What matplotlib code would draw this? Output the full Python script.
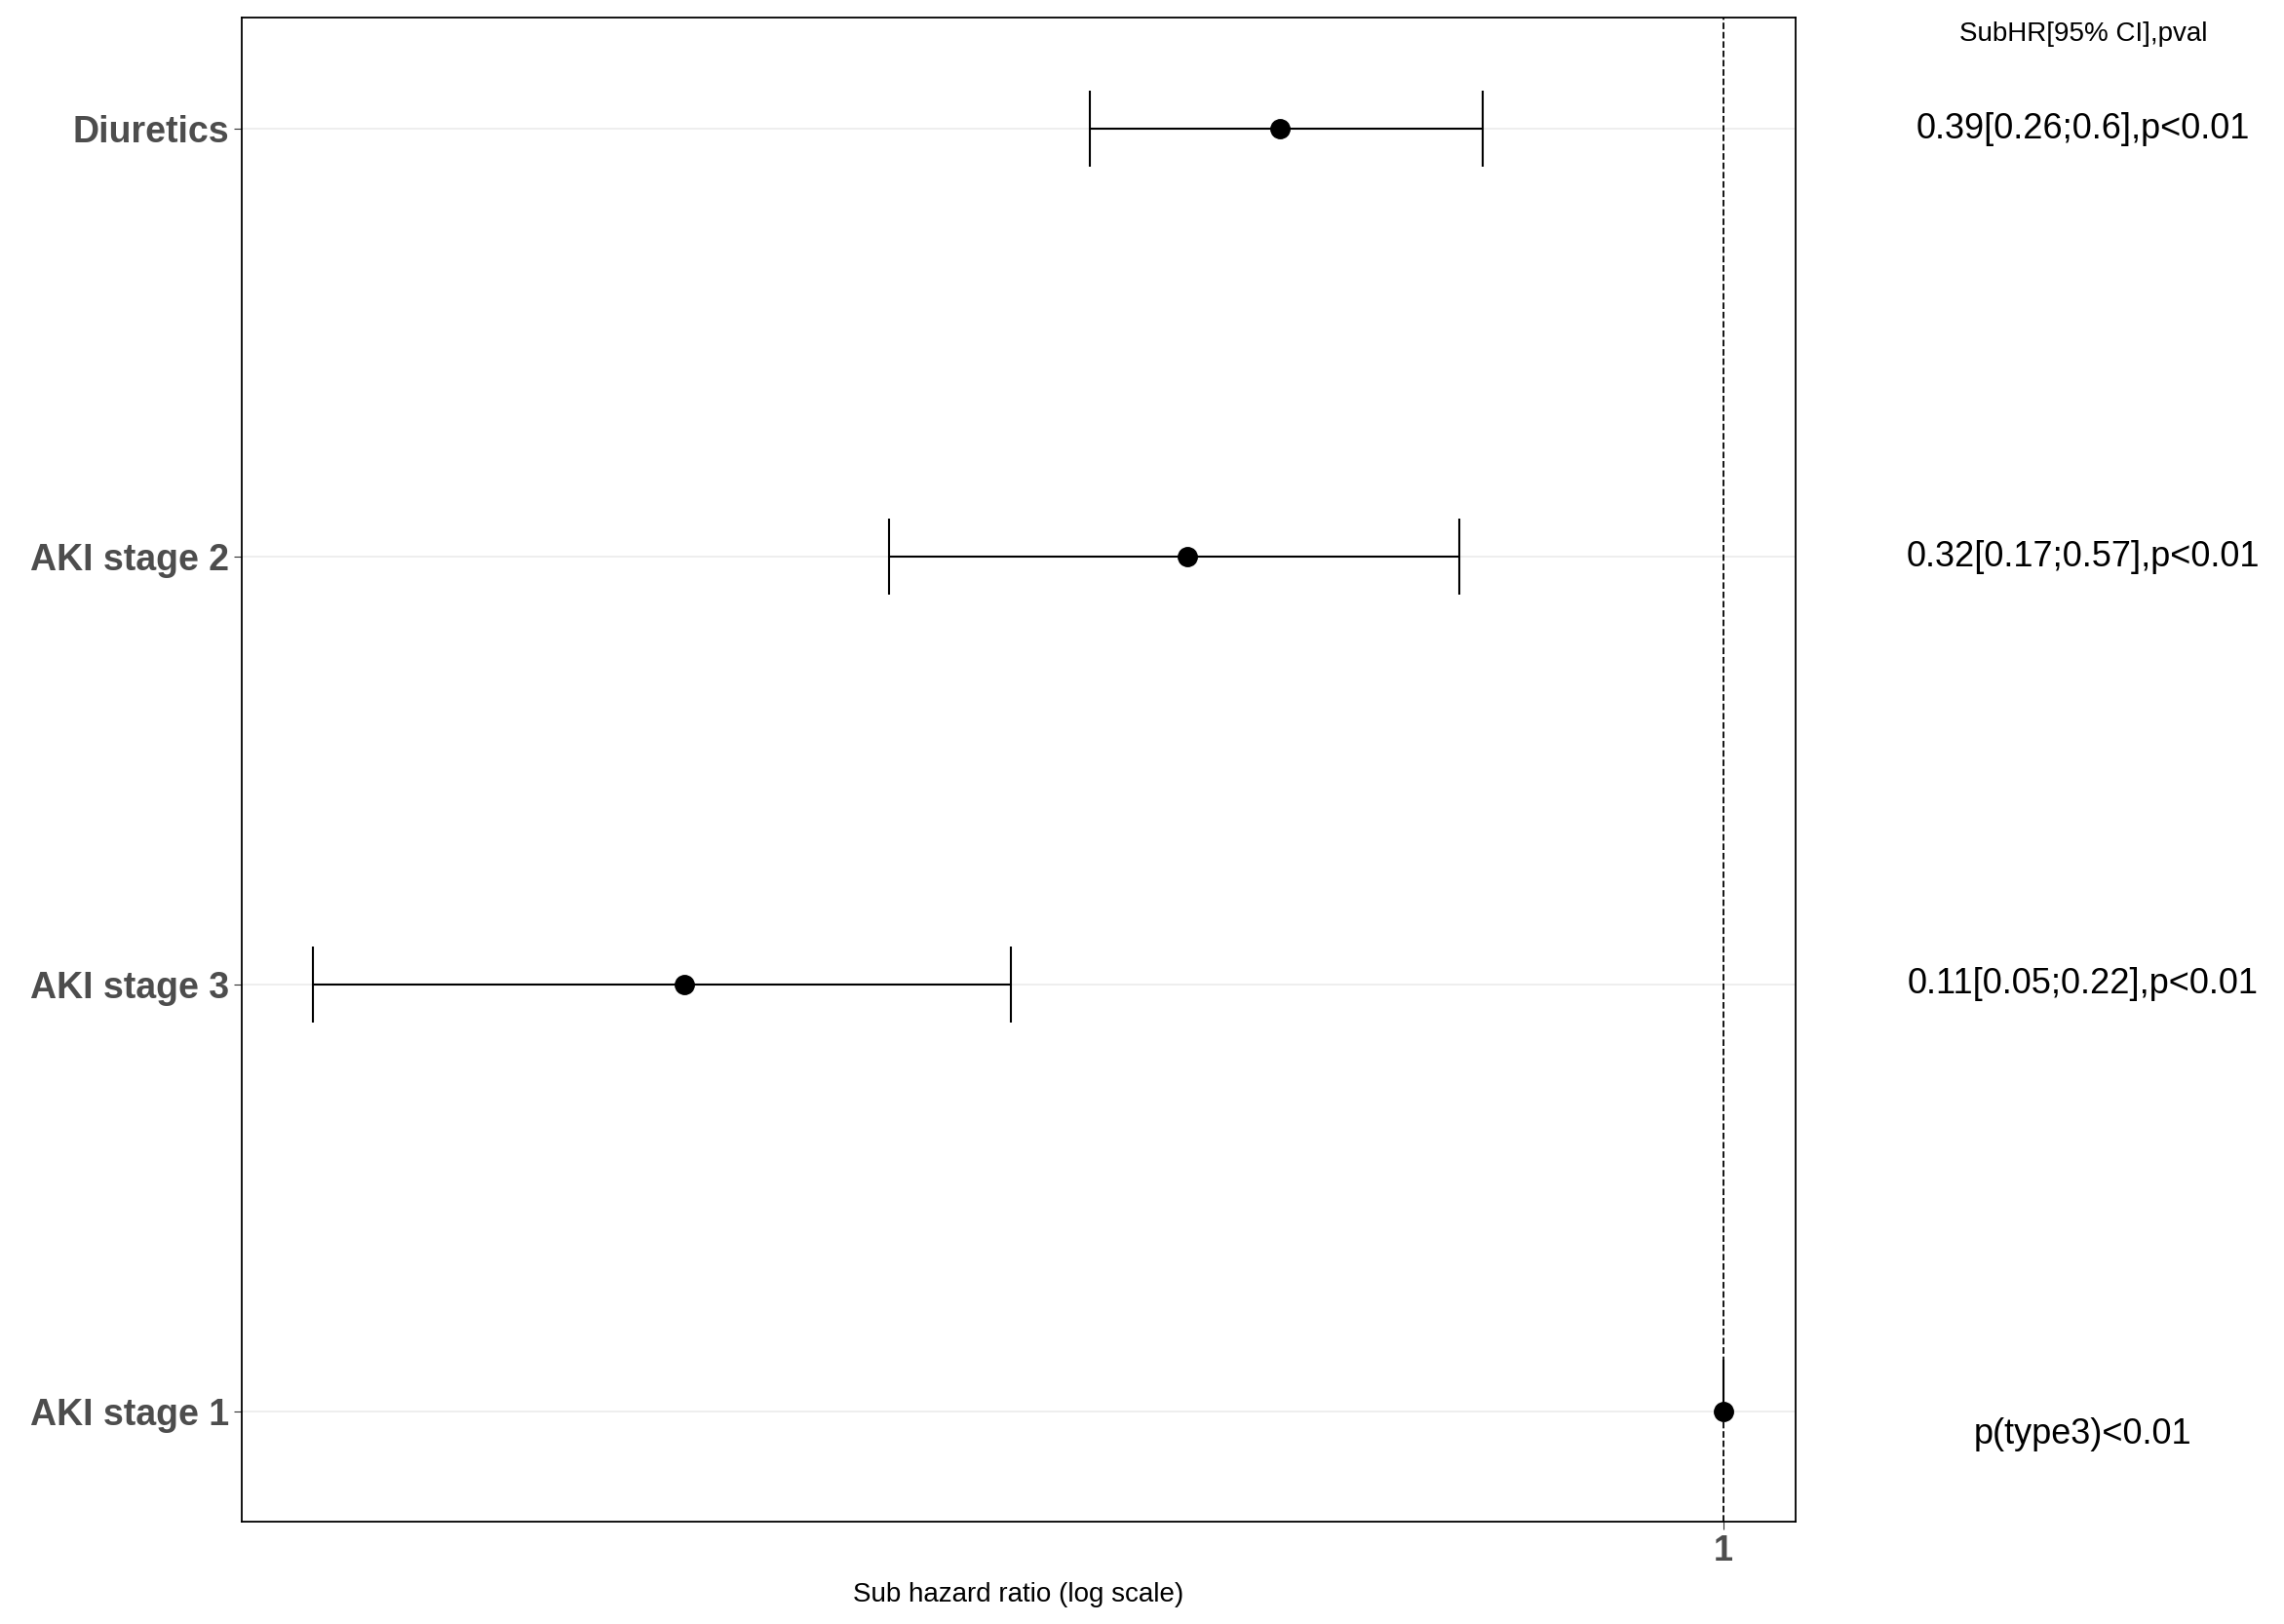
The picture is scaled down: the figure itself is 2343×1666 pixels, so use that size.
import numpy as np
import matplotlib.pyplot as plt

plt.rcParams['font.family'] = ['Liberation Sans', 'DejaVu Sans']

labels = ['Diuretics', 'AKI stage 2', 'AKI stage 3', 'AKI stage 1']
hr = [0.39, 0.32, 0.11, 1.0]
lo = [0.26, 0.17, 0.05, 1.0]
hi = [0.60, 0.57, 0.22, 1.0]
texts = ['0.39[0.26;0.6],p<0.01', '0.32[0.17;0.57],p<0.01',
         '0.11[0.05;0.22],p<0.01', 'p(type3)<0.01']
ypos = [4, 3, 2, 1]

fig = plt.figure(figsize=(23.43, 16.66), dpi=100)
ax = fig.add_axes([0.106, 0.063, 0.680, 0.926])

for y, h, l, u in zip(ypos, hr, lo, hi):
    if l == u:
        ax.plot([h, h], [y, y + 0.12], color='black', lw=1.5)
    else:
        ax.errorbar(h, y, xerr=[[h - l], [u - h]], fmt='none', ecolor='black',
                    elinewidth=1.5, capsize=28, capthick=1.5)
    ax.plot(h, y, 'o', color='black', markersize=14)

ax.axvline(1, color='black', ls='--', lw=1.3)
ax.set_xscale('log')
ax.set_xlim(0.043, 1.164)
ax.set_ylim(0.743, 4.26)
ax.set_yticks(ypos)
ax.set_yticklabels(labels, fontsize=27, fontweight='bold', color='#4d4d4d')
ax.set_xticks([1])
ax.set_xticklabels(['1'], fontsize=26, fontweight='bold', color='#4d4d4d')
ax.xaxis.set_minor_locator(plt.NullLocator())
ax.tick_params(axis='both', length=6, color='#333333')
ax.grid(axis='y', color='#ebebeb', lw=1.2)
ax.set_axisbelow(True)
for s in ax.spines.values():
    s.set_linewidth(1.3)
ax.set_xlabel('Sub hazard ratio (log scale)', fontsize=20, labelpad=10)

tx = 0.912
fig.text(tx, 0.979, 'SubHR[95% CI],pval', ha='center', va='center', fontsize=20)
for y, t in zip(ypos, texts):
    yf = ax.transData.transform((1, y))
    yfig = fig.transFigure.inverted().transform(yf)[1]
    if t.startswith('p(type3)'):
        yfig -= 0.014
    fig.text(tx, yfig, t, ha='center', va='center', fontsize=26)

fig.savefig('out.png', dpi=100)
